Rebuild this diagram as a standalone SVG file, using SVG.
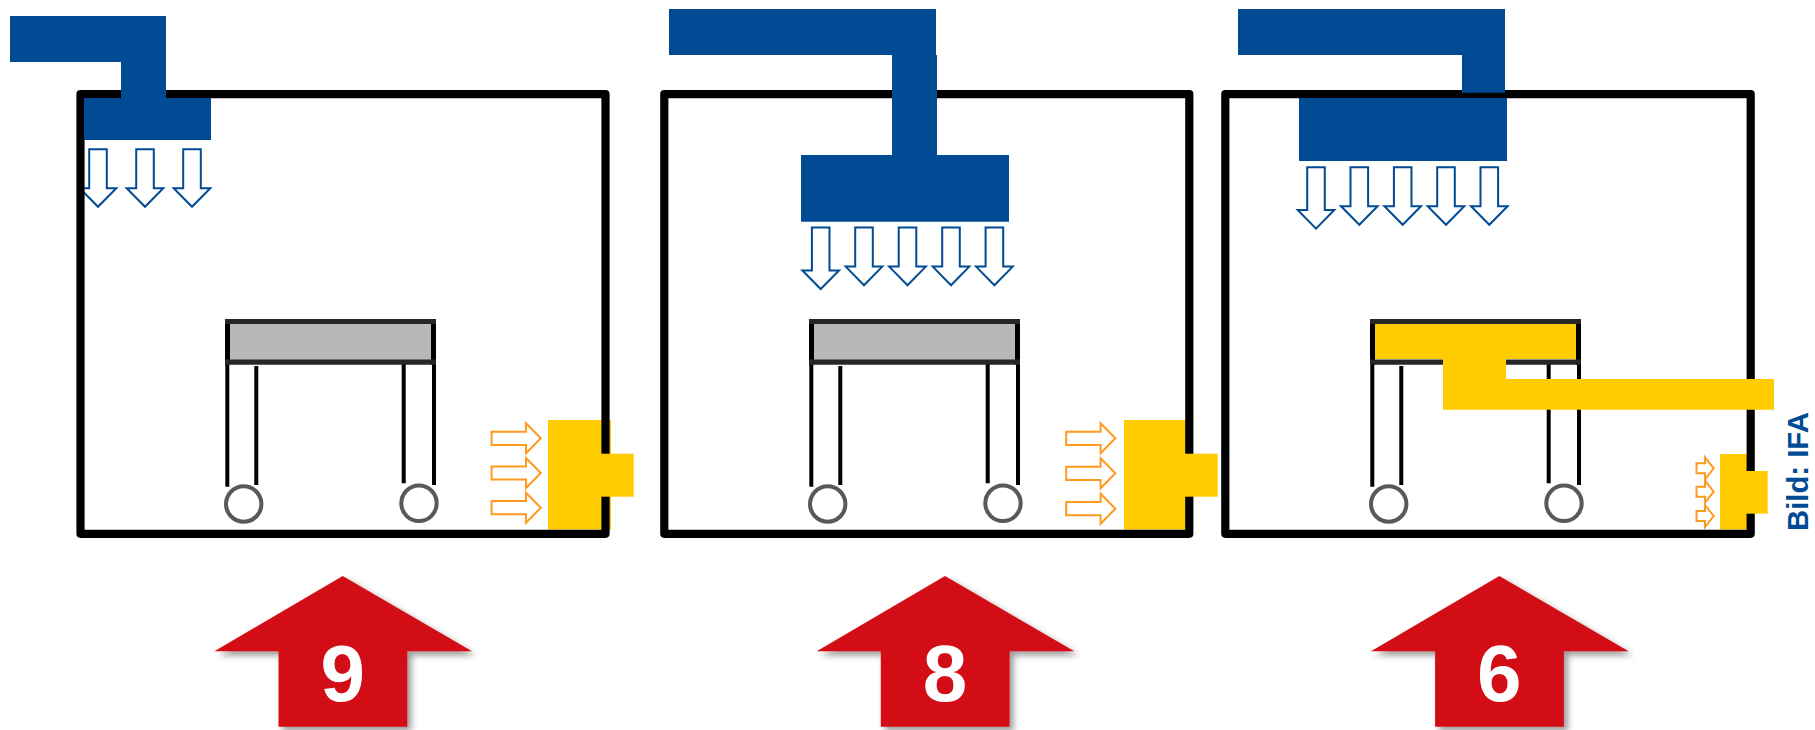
<svg xmlns="http://www.w3.org/2000/svg" width="1815" height="730" viewBox="0 0 1815 730">
<style>
.duct{fill:#004b93}
.air{fill:#fff;stroke:#004b93;stroke-width:2}
.heat{fill:#fff;stroke:#ff9a1e;stroke-width:2}
.heater{fill:#ffcc00}
.wall{fill:none;stroke:#000;stroke-width:8.2;stroke-linejoin:round}
.leg{stroke:#000;stroke-width:4;fill:none}
.bar{stroke:#262626;stroke-width:5.2;fill:none}
.post{stroke:#000;stroke-width:5;fill:none}
.wheel{fill:#fff;stroke:#595959;stroke-width:4}
.score{fill:#d31014;filter:url(#sh)}
.num{font-family:"Liberation Sans",Arial,sans-serif;font-weight:700;font-size:80px;fill:#fff;text-anchor:middle}
.credit{font-family:"Liberation Sans",Arial,sans-serif;font-weight:700;font-size:29.3px;fill:#004b93}
</style>
<defs>
<filter id="sh" x="-10%" y="-10%" width="125%" height="125%"><feDropShadow dx="4" dy="4" stdDeviation="3" flood-color="#000" flood-opacity="0.4"/></filter>
<path id="down" class="air" d="M-8.8,0H8.8V39H18.3L0,57.6L-18.3,39H-8.8Z"/>
<path id="down-l" class="air" d="M-8.8,0H8.8V42.8H18.3L0,61.4L-18.3,42.8H-8.8Z"/>
<path id="right" class="heat" d="M0,-6.6H34.4V-15L49.2,0L34.4,15V6.6H0Z"/>
<path id="right-s" class="heat" d="M0,-5H8.5V-11L17.2,0L8.5,11V5H0Z"/>
<path id="up" class="score" d="M0,0L129.3,75.3H64.6V150.7H-64.2V75.3H-128.3Z"/>
<g id="cart">
<path class="leg" d="M227.3,364V486.7M256.3,366V485M403.7,364V483.3M434,364V485"/>
<path class="post" d="M227.5,319V365M433.5,319V365"/>
<path class="bar" d="M225,321.5H436M225,362.2H436"/>
<circle class="wheel" cx="243.7" cy="504" r="17.7"/>
<circle class="wheel" cx="419" cy="503.3" r="17.7"/>
</g>
</defs>
<rect width="1815" height="730" fill="#fff"/>

<g id="station-1">
<use href="#down" x="98" y="149.2"/><use href="#down" x="145" y="149.2"/><use href="#down" x="192" y="149.2"/>
<rect class="heater" x="548" y="420" width="63" height="109.5"/>
<rect class="wall" x="80.5" y="94.2" width="525" height="439.6"/>
<rect class="heater" x="595" y="453.7" width="38.7" height="43"/>
<path class="duct" d="M10,16H166V98.3H121V62H10Z"/>
<rect class="duct" x="84" y="98" width="127" height="42"/>
<rect x="228" y="323" width="205" height="38" fill="#b8b8b8"/>
<use href="#cart"/>
<use href="#right" x="491.6" y="438.3"/><use href="#right" x="491.6" y="473"/><use href="#right" x="491.6" y="507.7"/>
</g>

<g id="station-2">
<use href="#down-l" x="820.7" y="227.6"/><use href="#down" x="864" y="227.6"/><use href="#down" x="907.5" y="227.6"/><use href="#down" x="951" y="227.6"/><use href="#down" x="994.4" y="227.6"/>
<rect class="heater" x="1124" y="420" width="62" height="109.5"/>
<rect class="wall" x="664.3" y="94.2" width="525" height="439.6"/>
<rect class="heater" x="1180" y="453.7" width="37.7" height="43"/>
<path class="duct" d="M669,9H936V55H937V155H1009V221.7H801V155H892V55H669Z"/>
<rect x="812" y="323" width="205" height="38" fill="#b8b8b8"/>
<use href="#cart" x="584"/>
<use href="#right" x="1066.2" y="438.3"/><use href="#right" x="1066.2" y="473.3"/><use href="#right" x="1066.2" y="508.7"/>
</g>

<g id="station-3">
<rect class="heater" x="1720" y="454" width="27.5" height="75.5"/>
<rect class="wall" x="1225.3" y="94.2" width="525.4" height="439.6"/>
<rect class="heater" x="1740" y="471" width="27.7" height="42.7"/>
<path class="duct" d="M1238,9H1505V92.7H1462V55H1238Z"/>
<rect class="duct" x="1299" y="98" width="208" height="63"/>
<use href="#down-l" x="1316" y="167.2"/><use href="#down" x="1359.3" y="167.2"/><use href="#down" x="1402.7" y="167.2"/><use href="#down" x="1446" y="167.2"/><use href="#down" x="1489.3" y="167.2"/>
<use href="#cart" x="1145"/>
<path class="heater" d="M1375,324H1576V359H1506V379H1774V409.7H1443V359H1375Z"/>
<use href="#right-s" x="1696.5" y="468.3"/><use href="#right-s" x="1696.5" y="491.7"/><use href="#right-s" x="1696.5" y="516"/>
</g>

<g id="score-9"><use href="#up" x="342.7" y="576"/><text class="num" x="342.7" y="701">9</text></g>
<g id="score-8"><use href="#up" x="945" y="576"/><text class="num" x="945" y="701">8</text></g>
<g id="score-6"><use href="#up" x="1499.3" y="576"/><text class="num" x="1499.3" y="701">6</text></g>

<text id="credit" class="credit" transform="translate(1808,531) rotate(-90)">Bild: IFA</text>
</svg>
